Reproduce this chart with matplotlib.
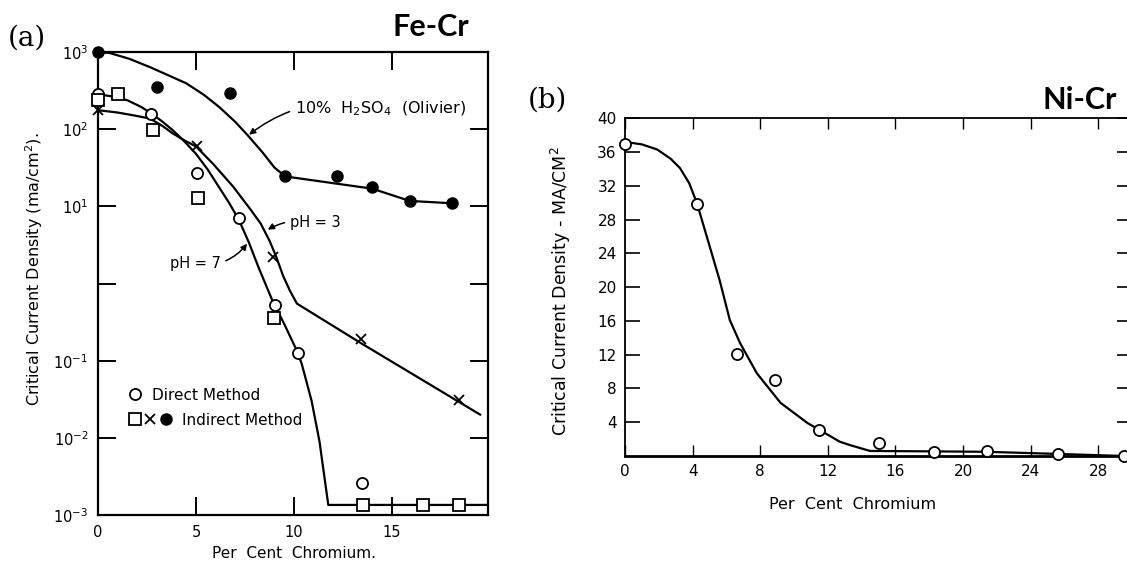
import matplotlib
matplotlib.use("Agg")
import matplotlib.pyplot as plt
from matplotlib.lines import Line2D
from matplotlib.legend_handler import HandlerTuple

# ---- panel (a): Fe-Cr, log scale ----
h2so4_x = [0.0, 3.0, 6.75, 9.55, 12.2, 14.0, 15.9, 18.05]
h2so4_y = [1000, 350, 300, 24.5, 24.5, 18, 11.6, 11]
h2so4_curve_x = [0.0, 0.6, 1.6, 2.65, 3.6, 4.5, 5.4, 6.2, 7.0, 7.65, 8.4, 9.0, 9.55, 14.0, 15.9, 18.05]
h2so4_curve_y = [1000, 975, 820, 640, 500, 395, 280, 193, 125, 83, 50, 32, 24.5, 17, 11.8, 11]

direct_x = [0.0, 2.7, 5.03, 7.2, 9.05, 10.2, 13.45]
direct_y = [290, 160, 27, 7.0, 0.53, 0.126, 0.0026]

square_x = [0.0, 1.03, 2.8, 5.1, 9.0, 13.5, 16.6, 18.4]
square_y = [240, 283, 97, 13, 0.36, 0.00135, 0.00135, 0.00135]

x_mark_x = [0.0, 5.03, 8.95, 13.4, 18.4]
x_mark_y = [177, 60, 2.2, 0.19, 0.031]

ph3_curve_x = [0.0, 1.0, 1.8, 2.65, 3.3, 3.8, 4.4, 5.0, 5.9, 6.9, 7.8, 8.3, 8.75, 9.1, 9.45, 9.8, 10.15,
               13.4, 19.5]
ph3_curve_y = [177, 165, 152, 138, 110, 89, 72, 60, 35, 18, 9, 6.0, 3.6, 2.2, 1.25, 0.8, 0.55,
               0.17, 0.02]

ph7_curve_x = [0.0, 0.8, 1.5, 2.2, 2.7, 3.3, 3.8, 4.4, 5.0, 5.6, 6.1, 6.7, 7.2, 7.7, 8.2, 8.9, 9.5, 10.2,
               10.4, 10.9, 11.3, 11.75, 19.9]
ph7_curve_y = [285, 265, 238, 195, 162, 125, 98, 70, 48, 30, 19, 11, 6.6, 3.4, 1.6, 0.6, 0.3, 0.126,
               0.09, 0.03, 0.009, 0.00135, 0.00135]

a_yticks = [1e-3, 1e-2, 1e-1, 1, 10, 100, 1000]
a_yticklabels = ['$10^{-3}$', '$10^{-2}$', '$10^{-1}$', '', '$10^{1}$', '$10^{2}$', '$10^{3}$']
a_xticks = [0, 5, 10, 15]

# ---- panel (b): Ni-Cr, linear ----
nicr_x = [0.0, 4.26, 6.6, 8.9, 11.5, 15.0, 18.3, 21.4, 25.6, 29.5]
nicr_y = [37.0, 29.8, 12.1, 9.0, 3.1, 1.5, 0.5, 0.6, 0.25, 0.0]
nicr_curve_x = [0.0, 1.0, 1.9, 2.7, 3.25, 3.8, 4.26, 4.85, 5.6, 6.2, 6.8, 7.8, 9.2, 10.8, 11.5, 12.7,
                13.3, 14.5, 18.3, 21.4, 25.6, 29.6]
nicr_curve_y = [37.2, 36.9, 36.3, 35.2, 34.1, 32.3, 29.9, 25.9, 20.8, 16.1, 13.4, 9.8, 6.3, 3.9, 3.1, 1.7,
                1.3, 0.6, 0.55, 0.5, 0.25, 0.0]
b_xticks = [0, 4, 8, 12, 16, 20, 24, 28]
b_yticks = [4, 8, 12, 16, 20, 24, 28, 32, 36, 40]

plt.rcParams['font.family'] = ['DejaVu Sans']

fig = plt.figure(figsize=(11.27, 5.63), dpi=100)

# ================= panel (a) =================
ax = fig.add_axes([0.087, 0.0853, 0.346, 0.822])
ax.set_yscale('log')
ax.set_xlim(0, 19.9)
ax.set_ylim(1e-3, 1e3)

ax.plot(h2so4_curve_x, h2so4_curve_y, color='black', lw=1.6, zorder=2)
ax.plot(ph3_curve_x, ph3_curve_y, color='black', lw=1.6, zorder=2)
ax.plot(ph7_curve_x, ph7_curve_y, color='black', lw=1.6, zorder=2)

ax.plot(h2so4_x, h2so4_y, 'o', ms=8, color='black', zorder=4, clip_on=False)
ax.plot(direct_x, direct_y, 'o', ms=8, mfc='white', mec='black', mew=1.3, zorder=4, clip_on=False)
ax.plot(square_x, square_y, 's', ms=8, mfc='white', mec='black', mew=1.3, zorder=4, clip_on=False)
ax.plot(x_mark_x, x_mark_y, 'x', ms=7, mec='black', mew=1.3, zorder=4, clip_on=False)

ax.set_yticks(a_yticks)
ax.set_yticklabels(a_yticklabels)
ax.minorticks_off()
ax.set_xticks(a_xticks)
ax.tick_params(direction='in', length=13, width=1.4, top=True, right=True,
               labelsize=10.5, pad=7)
for s in ax.spines.values():
    s.set_linewidth(1.6)

ax.set_ylabel('Critical Current Density (ma/cm$^2$).', fontsize=11.5)
ax.yaxis.set_label_coords(-0.136, 0.53)
ax.set_xlabel('Per  Cent  Chromium.', fontsize=11)
ax.xaxis.label.set_va('center')
ax.xaxis.set_label_coords(0.503, -0.083)

ann = dict(arrowstyle='-|>', color='black', lw=1.1, mutation_scale=9)
ax.annotate('10%  H$_2$SO$_4$  (Olivier)', xy=(7.65, 83), xytext=(10.05, 187),
            fontsize=11.5, va='center', ha='left',
            arrowprops=dict(ann, connectionstyle='arc3,rad=0.25', shrinkA=2, shrinkB=1))
ax.annotate('pH = 3', xy=(8.6, 4.9), xytext=(9.8, 6.2),
            fontsize=10.5, va='center', ha='left',
            arrowprops=dict(ann, connectionstyle='arc3,rad=0.2', shrinkA=2, shrinkB=1))
ax.annotate('pH = 7', xy=(7.65, 3.4), xytext=(3.65, 1.8),
            fontsize=10.5, va='center', ha='left',
            arrowprops=dict(ann, connectionstyle='arc3,rad=0.3', shrinkA=2, shrinkB=1))

# legend: two separate blocks so the label offsets follow the original
h_direct = Line2D([], [], ls='none', marker='o', ms=8, mfc='white', mec='black', mew=1.3)
h_sq = Line2D([], [], ls='none', marker='s', ms=8, mfc='white', mec='black', mew=1.3)
h_x = Line2D([], [], ls='none', marker='x', ms=7, mec='black', mew=1.3)
h_dot = Line2D([], [], ls='none', marker='o', ms=8, color='black')
leg1 = ax.legend([h_direct], ['Direct Method'], loc='center left',
                 bbox_to_anchor=(0.0636, 0.259), borderaxespad=0, frameon=False,
                 fontsize=11, handlelength=0.8, handletextpad=0.71)
ax.add_artist(leg1)
ax.legend([(h_sq, h_x, h_dot)], ['Indirect Method'],
          handler_map={tuple: HandlerTuple(ndivide=None, pad=0)},
          loc='center left', bbox_to_anchor=(0.0595, 0.205), borderaxespad=0,
          frameon=False, fontsize=11, handlelength=3.0, handletextpad=0.57)

# ================= panel (b) =================
bx = fig.add_axes([0.5546, 0.190, 0.4499, 0.600])
bx.set_xlim(0, 30)
bx.set_ylim(0, 40)
bx.plot(nicr_curve_x, nicr_curve_y, color='black', lw=1.6, zorder=2)
bx.plot(nicr_x, nicr_y, 'o', ms=8, mfc='white', mec='black', mew=1.3, zorder=4, clip_on=False)
bx.set_xticks(b_xticks)
bx.set_yticks(b_yticks)
bx.tick_params(direction='in', length=8, width=1.0, top=True, right=True,
               labelsize=11, pad=6)
bx.tick_params(axis='y', length=11, width=1.2)
for s in bx.spines.values():
    s.set_linewidth(1.3)
bx.spines['bottom'].set_linewidth(2.0)
bx.set_ylabel('Critical Current Density - MA/CM$^2$', fontsize=12.5)
bx.yaxis.set_label_coords(-0.103, 0.488)
bx.set_xlabel('Per  Cent  Chromium', fontsize=11.5)
bx.xaxis.set_label_coords(0.448, -0.121)

# panel tags and titles
fig.text(27 / 1127, 1 - 38 / 563, '(a)', family='DejaVu Serif', fontsize=20, ha='center', va='center')
fig.text(431 / 1127, 1 - 27 / 563, 'Fe-Cr', family='Lato', weight='bold', fontsize=22, ha='center', va='center')
fig.text(547 / 1127, 1 - 100 / 563, '(b)', family='DejaVu Serif', fontsize=20, ha='center', va='center')
fig.text(1080 / 1127, 1 - 100 / 563, 'Ni-Cr', family='Lato', weight='bold', fontsize=22, ha='center', va='center')

fig.savefig('out.png', dpi=100)
